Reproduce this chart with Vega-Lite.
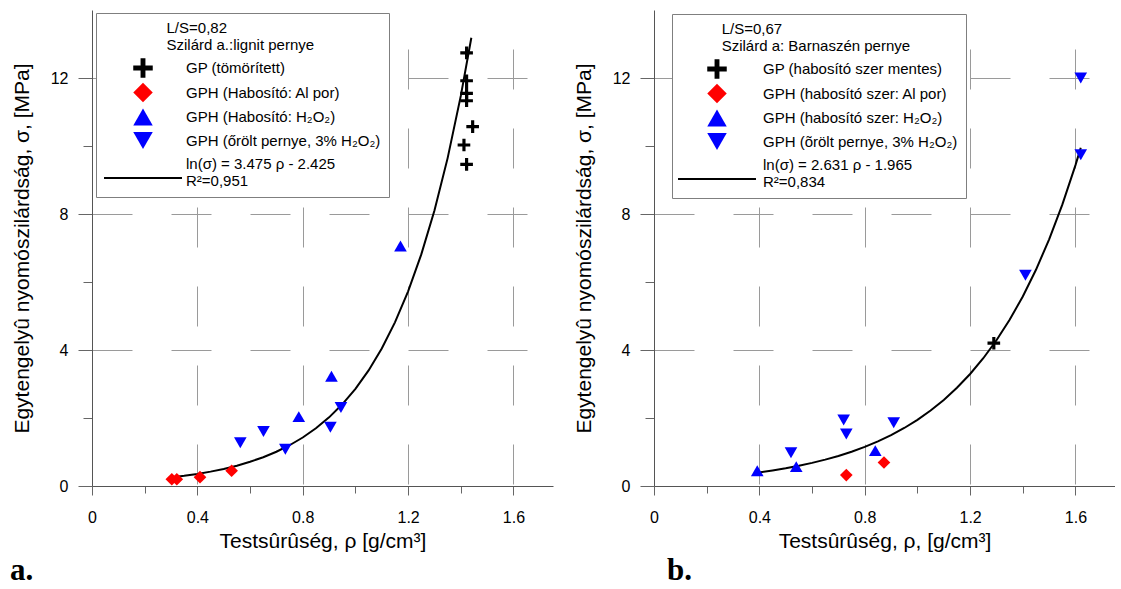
{
  "$schema": "https://vega.github.io/schema/vega-lite/v6.json",
  "padding": {"left": 10, "top": 10, "right": 0, "bottom": 0},
  "spacing": 20,
  "datasets": {
    "a_points": [
      {"rho": 1.422, "sigma": 12.74, "series": "GP (tömörített)"},
      {"rho": 1.422, "sigma": 11.92, "series": "GP (tömörített)"},
      {"rho": 1.422, "sigma": 11.55, "series": "GP (tömörített)"},
      {"rho": 1.422, "sigma": 11.33, "series": "GP (tömörített)"},
      {"rho": 1.445, "sigma": 10.57, "series": "GP (tömörített)"},
      {"rho": 1.412, "sigma": 10.03, "series": "GP (tömörített)"},
      {"rho": 1.422, "sigma": 9.46, "series": "GP (tömörített)"},
      {"rho": 0.303, "sigma": 0.2, "series": "GPH (Habosító: Al por)"},
      {"rho": 0.322, "sigma": 0.2, "series": "GPH (Habosító: Al por)"},
      {"rho": 0.41, "sigma": 0.26, "series": "GPH (Habosító: Al por)"},
      {"rho": 0.53, "sigma": 0.45, "series": "GPH (Habosító: Al por)"},
      {"rho": 0.785, "sigma": 2.04, "series": "GPH (Habosító: H₂O₂)"},
      {"rho": 0.909, "sigma": 3.23, "series": "GPH (Habosító: H₂O₂)"},
      {"rho": 1.171, "sigma": 7.06, "series": "GPH (Habosító: H₂O₂)"},
      {"rho": 0.563, "sigma": 1.27, "series": "GPH (őrölt pernye, 3% H₂O₂)"},
      {"rho": 0.651, "sigma": 1.6, "series": "GPH (őrölt pernye, 3% H₂O₂)"},
      {"rho": 0.734, "sigma": 1.08, "series": "GPH (őrölt pernye, 3% H₂O₂)"},
      {"rho": 0.905, "sigma": 1.73, "series": "GPH (őrölt pernye, 3% H₂O₂)"},
      {"rho": 0.945, "sigma": 2.31, "series": "GPH (őrölt pernye, 3% H₂O₂)"}
    ],
    "a_fit": [
      {"rho": 0.30, "sigma": 0.251}, {"rho": 0.35, "sigma": 0.2986}, {"rho": 0.40, "sigma": 0.3552},
      {"rho": 0.45, "sigma": 0.4226}, {"rho": 0.50, "sigma": 0.5028}, {"rho": 0.55, "sigma": 0.5982},
      {"rho": 0.60, "sigma": 0.7118}, {"rho": 0.65, "sigma": 0.8468}, {"rho": 0.70, "sigma": 1.0075},
      {"rho": 0.75, "sigma": 1.1987}, {"rho": 0.80, "sigma": 1.4262}, {"rho": 0.85, "sigma": 1.6967},
      {"rho": 0.90, "sigma": 2.0188}, {"rho": 0.95, "sigma": 2.4019}, {"rho": 1.00, "sigma": 2.8577},
      {"rho": 1.05, "sigma": 3.4}, {"rho": 1.10, "sigma": 4.0452}, {"rho": 1.15, "sigma": 4.8128},
      {"rho": 1.20, "sigma": 5.7259}, {"rho": 1.25, "sigma": 6.8125}, {"rho": 1.30, "sigma": 8.1052},
      {"rho": 1.35, "sigma": 9.6434}, {"rho": 1.40, "sigma": 11.473}, {"rho": 1.44, "sigma": 13.183}
    ],
    "b_points": [
      {"rho": 1.29, "sigma": 4.2, "series": "GP (habosító szer mentes)"},
      {"rho": 0.73, "sigma": 0.32, "series": "GPH (habosító szer: Al por)"},
      {"rho": 0.873, "sigma": 0.69, "series": "GPH (habosító szer: Al por)"},
      {"rho": 0.392, "sigma": 0.45, "series": "GPH (habosító szer: H₂O₂)"},
      {"rho": 0.54, "sigma": 0.57, "series": "GPH (habosító szer: H₂O₂)"},
      {"rho": 0.84, "sigma": 1.04, "series": "GPH (habosító szer: H₂O₂)"},
      {"rho": 0.52, "sigma": 0.98, "series": "GPH (õrölt pernye, 3% H₂O₂)"},
      {"rho": 0.72, "sigma": 1.94, "series": "GPH (õrölt pernye, 3% H₂O₂)"},
      {"rho": 0.73, "sigma": 1.53, "series": "GPH (õrölt pernye, 3% H₂O₂)"},
      {"rho": 0.91, "sigma": 1.86, "series": "GPH (õrölt pernye, 3% H₂O₂)"},
      {"rho": 1.41, "sigma": 6.2, "series": "GPH (õrölt pernye, 3% H₂O₂)"},
      {"rho": 1.62, "sigma": 9.74, "series": "GPH (õrölt pernye, 3% H₂O₂)"},
      {"rho": 1.62, "sigma": 12.0, "series": "GPH (õrölt pernye, 3% H₂O₂)"}
    ],
    "b_fit": [
      {"rho": 0.39, "sigma": 0.391}, {"rho": 0.45, "sigma": 0.4579}, {"rho": 0.50, "sigma": 0.5223},
      {"rho": 0.55, "sigma": 0.5958}, {"rho": 0.60, "sigma": 0.6795}, {"rho": 0.65, "sigma": 0.775},
      {"rho": 0.70, "sigma": 0.884}, {"rho": 0.75, "sigma": 1.0083}, {"rho": 0.80, "sigma": 1.15},
      {"rho": 0.85, "sigma": 1.3117}, {"rho": 0.90, "sigma": 1.4962}, {"rho": 0.95, "sigma": 1.7065},
      {"rho": 1.00, "sigma": 1.9464}, {"rho": 1.05, "sigma": 2.2201}, {"rho": 1.10, "sigma": 2.5322},
      {"rho": 1.15, "sigma": 2.8883}, {"rho": 1.20, "sigma": 3.2944}, {"rho": 1.25, "sigma": 3.7575},
      {"rho": 1.30, "sigma": 4.2859}, {"rho": 1.35, "sigma": 4.8885}, {"rho": 1.40, "sigma": 5.5756},
      {"rho": 1.45, "sigma": 6.3595}, {"rho": 1.50, "sigma": 7.254}, {"rho": 1.55, "sigma": 8.2742},
      {"rho": 1.60, "sigma": 9.4367}, {"rho": 1.62, "sigma": 9.947}
    ]
  },
  "hconcat": [
    {
      "width": 461,
      "height": 476,
      "title": {"text": "a.", "orient": "bottom", "anchor": "start", "frame": "group", "dx": -82, "offset": 5, "font": "Liberation Serif", "fontSize": 31, "fontWeight": "bold", "color": "black"},
      "layer": [
        {
          "data": {"name": "a_fit"},
          "mark": {"type": "line", "color": "black", "strokeWidth": 2},
          "encoding": {
            "x": {"field": "rho", "type": "quantitative", "scale": {"domain": [0, 1.75], "nice": false},
              "axis": {"title": "Testsûrûség, ρ [g/cm³]", "values": [0, 0.2, 0.4, 0.6, 0.8, 1, 1.2, 1.4, 1.6], "format": ".1~f",
                "labelExpr": "round(datum.value*10) % 4 === 0 ? datum.label : ''",
                "tickSize": {"condition": {"test": "round(datum.value*10) % 4 === 0", "value": 9}, "value": 7},
                "gridOpacity": {"condition": {"test": "round(datum.value*10) % 4 === 0 && datum.value > 0", "value": 1}, "value": 0},
                "gridDashOffset": 40}},
            "y": {"field": "sigma", "type": "quantitative", "scale": {"domain": [0, 14], "nice": false},
              "axis": {"title": "Egytengelyû nyomószilárdság, σ, [MPa]", "values": [0, 2, 4, 6, 8, 10, 12],
                "labelExpr": "datum.value % 4 === 0 ? datum.label : ''",
                "tickSize": {"condition": {"test": "datum.value % 4 === 0", "value": 14}, "value": 9},
                "gridOpacity": {"condition": {"test": "datum.value % 4 === 0 && datum.value > 0", "value": 1}, "value": 0}}}
          }
        },
        {
          "data": {"name": "a_points"},
          "mark": {"type": "point", "filled": true, "opacity": 1, "size": 160},
          "encoding": {
            "x": {"field": "rho", "type": "quantitative"},
            "y": {"field": "sigma", "type": "quantitative"},
            "color": {"field": "series", "type": "nominal",
              "scale": {"domain": ["GP (tömörített)", "GPH (Habosító: Al por)", "GPH (Habosító: H₂O₂)", "GPH (őrölt pernye, 3% H₂O₂)", "fit"],
                "range": ["black", "#ff0000", "#0000ff", "#0000ff", "black"]},
              "legend": {"title": ["\u200b\u00a0\u00a0\u00a0\u00a0\u00a0\u00a0\u00a0\u00a0\u00a0\u00a0\u00a0\u00a0\u00a0\u00a0\u00a0L/S=0,82", "\u200b\u00a0\u00a0\u00a0\u00a0\u00a0\u00a0\u00a0\u00a0\u00a0\u00a0\u00a0\u00a0\u00a0\u00a0\u00a0Szilárd a.:lignit pernye"], "orient": "none", "legendX": 4, "legendY": 3, "direction": "vertical",
                "labelExpr": "datum.value === 'fit' ? ['ln(σ) = 3.475 ρ - 2.425', 'R²=0,951'] : datum.label",
                "symbolOffset": 29, "labelOffset": 33}},
            "shape": {"field": "series", "type": "nominal",
              "scale": {"domain": ["GP (tömörített)", "GPH (Habosító: Al por)", "GPH (Habosító: H₂O₂)", "GPH (őrölt pernye, 3% H₂O₂)", "fit"],
                "range": ["M-1,-0.25H-0.25V-1H0.25V-0.25H1V0.25H0.25V1H-0.25V0.25H-1Z", "diamond", "triangle-up", "triangle-down", "M-4,1.336H4V1.536H-4Z"]},
              "legend": {"title": ["\u200b\u00a0\u00a0\u00a0\u00a0\u00a0\u00a0\u00a0\u00a0\u00a0\u00a0\u00a0\u00a0\u00a0\u00a0\u00a0L/S=0,82", "\u200b\u00a0\u00a0\u00a0\u00a0\u00a0\u00a0\u00a0\u00a0\u00a0\u00a0\u00a0\u00a0\u00a0\u00a0\u00a0Szilárd a.:lignit pernye"], "orient": "none", "legendX": 4, "legendY": 3, "direction": "vertical",
                "labelExpr": "datum.value === 'fit' ? ['ln(σ) = 3.475 ρ - 2.425', 'R²=0,951'] : datum.label",
                "symbolOffset": 29, "labelOffset": 33}}
          }
        }
      ]
    },
    {
      "width": 461,
      "height": 476,
      "title": {"text": "b.", "orient": "bottom", "anchor": "start", "frame": "group", "dx": 13, "offset": 5, "font": "Liberation Serif", "fontSize": 31, "fontWeight": "bold", "color": "black"},
      "layer": [
        {
          "data": {"name": "b_fit"},
          "mark": {"type": "line", "color": "black", "strokeWidth": 2},
          "encoding": {
            "x": {"field": "rho", "type": "quantitative", "scale": {"domain": [0, 1.75], "nice": false},
              "axis": {"title": "Testsûrûség, ρ, [g/cm³]", "values": [0, 0.2, 0.4, 0.6, 0.8, 1, 1.2, 1.4, 1.6], "format": ".1~f",
                "labelExpr": "round(datum.value*10) % 4 === 0 ? datum.label : ''",
                "tickSize": {"condition": {"test": "round(datum.value*10) % 4 === 0", "value": 9}, "value": 7},
                "gridOpacity": {"condition": {"test": "round(datum.value*10) % 4 === 0 && datum.value > 0", "value": 1}, "value": 0},
                "gridDashOffset": 40}},
            "y": {"field": "sigma", "type": "quantitative", "scale": {"domain": [0, 14], "nice": false},
              "axis": {"title": "Egytengelyû nyomószilárdság,  σ, [MPa]", "values": [0, 2, 4, 6, 8, 10, 12],
                "labelExpr": "datum.value % 4 === 0 ? datum.label : ''",
                "tickSize": {"condition": {"test": "datum.value % 4 === 0", "value": 14}, "value": 9},
                "gridOpacity": {"condition": {"test": "datum.value % 4 === 0 && datum.value > 0", "value": 1}, "value": 0}}}
          }
        },
        {
          "data": {"name": "b_points"},
          "mark": {"type": "point", "filled": true, "opacity": 1, "size": 160},
          "encoding": {
            "x": {"field": "rho", "type": "quantitative"},
            "y": {"field": "sigma", "type": "quantitative"},
            "color": {"field": "series", "type": "nominal",
              "scale": {"domain": ["GP (habosító szer mentes)", "GPH (habosító szer: Al por)", "GPH (habosító szer: H₂O₂)", "GPH (õrölt pernye, 3% H₂O₂)", "fit"],
                "range": ["black", "#ff0000", "#0000ff", "#0000ff", "black"]},
              "legend": {"title": ["\u200b\u00a0\u00a0\u00a0\u00a0\u00a0\u00a0\u00a0\u00a0\u00a0\u00a0L/S=0,67", "\u200b\u00a0\u00a0\u00a0\u00a0\u00a0\u00a0\u00a0\u00a0\u00a0\u00a0Szilárd a: Barnaszén pernye"], "orient": "none", "legendX": 18, "legendY": 4, "direction": "vertical",
                "labelExpr": "datum.value === 'fit' ? ['ln(σ) = 2.631 ρ - 1.965', 'R²=0,834'] : datum.label",
                "symbolOffset": 27, "labelOffset": 36}},
            "shape": {"field": "series", "type": "nominal",
              "scale": {"domain": ["GP (habosító szer mentes)", "GPH (habosító szer: Al por)", "GPH (habosító szer: H₂O₂)", "GPH (õrölt pernye, 3% H₂O₂)", "fit"],
                "range": ["M-1,-0.25H-0.25V-1H0.25V-0.25H1V0.25H0.25V1H-0.25V0.25H-1Z", "diamond", "triangle-up", "triangle-down", "M-4,1.336H4V1.536H-4Z"]},
              "legend": {"title": ["\u200b\u00a0\u00a0\u00a0\u00a0\u00a0\u00a0\u00a0\u00a0\u00a0\u00a0L/S=0,67", "\u200b\u00a0\u00a0\u00a0\u00a0\u00a0\u00a0\u00a0\u00a0\u00a0\u00a0Szilárd a: Barnaszén pernye"], "orient": "none", "legendX": 18, "legendY": 4, "direction": "vertical",
                "labelExpr": "datum.value === 'fit' ? ['ln(σ) = 2.631 ρ - 1.965', 'R²=0,834'] : datum.label",
                "symbolOffset": 27, "labelOffset": 36}}
          }
        }
      ]
    }
  ],
  "resolve": {"scale": {"x": "independent", "y": "independent", "color": "independent", "shape": "independent"}},
  "config": {
    "font": "Liberation Sans",
    "view": {"stroke": null},
    "axis": {
      "domainColor": "#555555",
      "tickColor": "#666666",
      "gridColor": "#9a9a9a",
      "gridDash": [40, 39],
      "grid": true,
      "labelColor": "black",
      "labelFontSize": 16,
      "labelOverlap": false,
      "labelFlush": false,
      "titleColor": "black",
      "titleFontSize": 21,
      "titleFontWeight": "normal"
    },
    "axisX": {"labelPadding": 14, "titlePadding": 5},
    "axisY": {"labelPadding": 10, "titlePadding": 18},
    "legend": {
      "padding": 8,
      "fillColor": "white",
      "strokeColor": "#7f7f7f",
      "titleFontSize": 15,
      "titleFontWeight": "normal",
      "titleColor": "black",
      "titleLineHeight": 17,
      "titlePadding": 5,
      "titleLimit": 0,
      "labelFontSize": 15,
      "labelColor": "black",
      "labelLimit": 0,
      "symbolSize": 380,
      "symbolStrokeWidth": 0,
      "rowPadding": 4.5
    }
  }
}
